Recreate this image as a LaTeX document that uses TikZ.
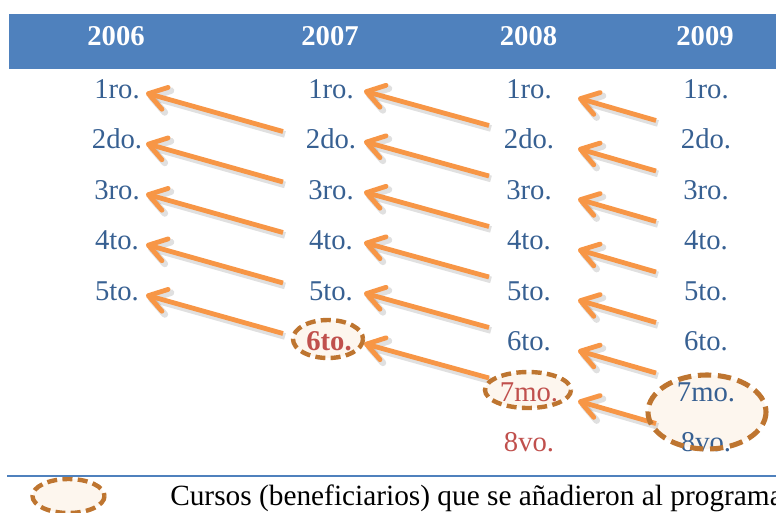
\documentclass[tikz,border=0pt]{standalone}
\usepackage{fontspec}
\setmainfont{Liberation Serif}
\usetikzlibrary{arrows.meta}
\definecolor{hdr}{HTML}{4F81BD}
\definecolor{txtblue}{RGB}{55,96,146}
\definecolor{txtred}{HTML}{C0504D}
\definecolor{arr}{HTML}{F79646}
\definecolor{ring}{RGB}{190,117,48}
\definecolor{ringfill}{HTML}{FDF6EE}
\begin{document}
\begin{tikzpicture}[x=0.75pt,y=-0.75pt,
  lbl/.style={anchor=base, text=txtblue, font=\fontsize{21.5}{24}\selectfont, inner sep=0pt},
  redlbl/.style={lbl, text=txtred},
  yr/.style={anchor=base, text=white, font=\fontsize{21.5}{24}\selectfont\bfseries, inner sep=0pt},
  arrowline/.style={draw=arr, line width=3.6pt, -{Straight Barb[length=13pt,width=17pt,round]}},
  arrowshadow/.style={draw=black, draw opacity=0.12, line width=5pt, -{Straight Barb[length=13pt,width=17pt,round]}},
  ringline/.style={draw=ring, line width=3.3pt, dash pattern=on 7.5pt off 4pt},
  bigringline/.style={draw=ring, line width=3.8pt, dash pattern=on 10pt off 5pt},
]
\useasboundingbox (0,0) rectangle (776,512);
% header
\fill[hdr] (9,14) rectangle (776,69);
\node[yr] (y2006) at (116,45) {2006};
\node[yr] (y2007) at (330,45) {2007};
\node[yr] (y2008) at (528.5,45) {2008};
\node[yr] (y2009) at (705,45) {2009};
% ellipse fills
\fill[ringfill] (328,339) ellipse [x radius=35, y radius=19];
\fill[ringfill] (528,390) ellipse [x radius=43, y radius=18];
\fill[ringfill] (707,412) ellipse [x radius=59, y radius=37];
\fill[ringfill] (68.5,496) ellipse [x radius=36, y radius=17];
% arrow end points
\foreach \i [evaluate=\i as \bt using 98+50.5*(\i-1), evaluate=\i as \bs using 98+50.5*\i] in {1,...,5}{
  \coordinate (a1s\i) at (283,\bs-17);
  \coordinate (a1e\i) at (146,\bt-5);
}
\foreach \i [evaluate=\i as \bt using 98+50.5*(\i-1), evaluate=\i as \bs using 98+50.5*\i] in {1,...,6}{
  \coordinate (a2s\i) at (489,\bs-23);
  \coordinate (a2e\i) at (364,\bt-7);
}
\foreach \i [evaluate=\i as \bt using 98+50.5*(\i-1), evaluate=\i as \bs using 98+50.5*\i] in {1,...,7}{
  \coordinate (a3s\i) at (656,\bs-28);
  \coordinate (a3e\i) at (578,\bt);
}
% arrows with shadows
\foreach \c/\n in {1/5,2/6,3/7}{
  \foreach \i in {1,...,\n}{
    \draw[arrowshadow, transform canvas={shift={(1.5pt,-2.2pt)}}] (a\c s\i) -- (a\c e\i);
    \draw[arrowline] (a\c s\i) -- (a\c e\i);
  }
}
% labels
\foreach \t [count=\i, evaluate=\i as \b using 98+50.5*(\i-1)] in {1ro.,2do.,3ro.,4to.,5to.}
  \node[lbl] (c1r\i) at (117,\b) {\t};
\foreach \t [count=\i, evaluate=\i as \b using 98+50.5*(\i-1)] in {1ro.,2do.,3ro.,4to.,5to.}
  \node[lbl] (c2r\i) at (331,\b) {\t};
\node[redlbl, font=\fontsize{21.5}{24}\selectfont\bfseries] (c2r6) at (329,350.5) {6to.};
\foreach \t [count=\i, evaluate=\i as \b using 98+50.5*(\i-1)] in {1ro.,2do.,3ro.,4to.,5to.,6to.}
  \node[lbl] (c3r\i) at (529,\b) {\t};
\node[redlbl] (c3r7) at (529,401) {7mo.};
\node[redlbl] (c3r8) at (529,451.5) {8vo.};
\foreach \t [count=\i, evaluate=\i as \b using 98+50.5*(\i-1)] in {1ro.,2do.,3ro.,4to.,5to.,6to.,7mo.,8vo.}
  \node[lbl] (c4r\i) at (706,\b) {\t};
% ellipse borders
\draw[ringline] (328,339) ellipse [x radius=35, y radius=19];
\draw[ringline] (528,390) ellipse [x radius=43, y radius=18];
\draw[bigringline] (707,412) ellipse [x radius=59, y radius=37];
\draw[ringline] (68.5,496) ellipse [x radius=36, y radius=17];
% bottom rule and legend
\draw[hdr, line width=2pt] (7,476) -- (776,476);
\node[anchor=base west, inner sep=0pt, font=\fontsize{22}{26}\selectfont] (legend) at (170,505) {Cursos (beneficiarios) que se añadieron al programa};
\end{tikzpicture}
\end{document}
